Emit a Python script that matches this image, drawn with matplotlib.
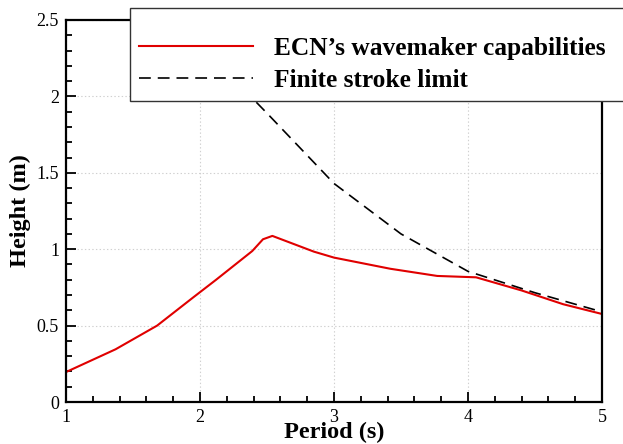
import numpy as np
import matplotlib
matplotlib.use("Agg")
import matplotlib.pyplot as plt

# ==============================
# DATA
# ==============================
period_ecn = [1.0, 1.37, 1.68, 1.95, 2.12, 2.39, 2.47, 2.54, 2.85, 3.0, 3.42, 3.77, 4.06, 4.40, 4.71, 5.0]
height_ecn = [0.196, 0.345, 0.50, 0.685, 0.80, 0.988, 1.065, 1.087, 0.984, 0.945, 0.872, 0.825, 0.816, 0.73, 0.640, 0.576]

period_stroke = [2.0, 2.3, 2.5, 3.0, 3.5, 4.0, 4.5, 5.0]
height_stroke = [2.45, 2.07, 1.89, 1.43, 1.10, 0.855, 0.715, 0.59]

x_ticks = [1, 2, 3, 4, 5]
y_ticks = [0, 0.5, 1, 1.5, 2, 2.5]
y_tick_labels = ["0", "0.5", "1", "1.5", "2", "2.5"]

# ==============================
# STYLE
# ==============================
plt.rcParams["font.family"] = ["Liberation Serif", "DejaVu Serif"]
plt.rcParams["lines.scale_dashes"] = False

fig = plt.figure(figsize=(6.23, 4.44), dpi=100)
ax = fig.add_axes([66 / 623, 1 - 402 / 444, 536 / 623, 382 / 444])

ax.plot(period_ecn, height_ecn, color="#e00000", lw=1.5,
        label="ECN\u2019s wavemaker capabilities")
ax.plot(period_stroke, height_stroke, color="black", lw=1.2,
        dashes=(8.5, 5), label="Finite stroke limit")

ax.set_xlim(1, 5)
ax.set_ylim(0, 2.5)
ax.set_xticks(x_ticks)
ax.set_yticks(y_ticks)
ax.set_yticklabels(y_tick_labels)
ax.set_xticks(np.arange(1, 5.01, 0.2), minor=True)
ax.set_yticks(np.arange(0, 2.51, 0.1), minor=True)

ax.tick_params(which="both", direction="in", top=False, right=False,
               labelsize=13, width=1.3, pad=5)
ax.tick_params(which="major", length=7)
ax.tick_params(which="minor", length=4)

for s in ax.spines.values():
    s.set_linewidth(1.6)

ax.grid(True, which="major", color="#d0d0d0", ls=":", lw=0.8)

ax.set_xlabel("Period (s)", fontsize=17.5, fontweight="bold", labelpad=-3)
ax.set_ylabel("Height (m)", fontsize=17.5, fontweight="bold")
ax.yaxis.set_label_coords(-0.065, 0.5)

leg = ax.legend(loc="upper left", bbox_to_anchor=(130 / 623, 1 - 100 / 444, 0.8, 92 / 444),
                bbox_transform=fig.transFigure, mode="expand", borderaxespad=0,
                fancybox=False, framealpha=1, edgecolor="#333333",
                prop={"size": 18.3, "weight": "bold"},
                title=" ", title_fontsize=9,
                handlelength=4.5, handletextpad=0.8, borderpad=0.35, labelspacing=0.33)
leg.get_frame().set_linewidth(1.0)

plt.savefig("out.png", dpi=100)
